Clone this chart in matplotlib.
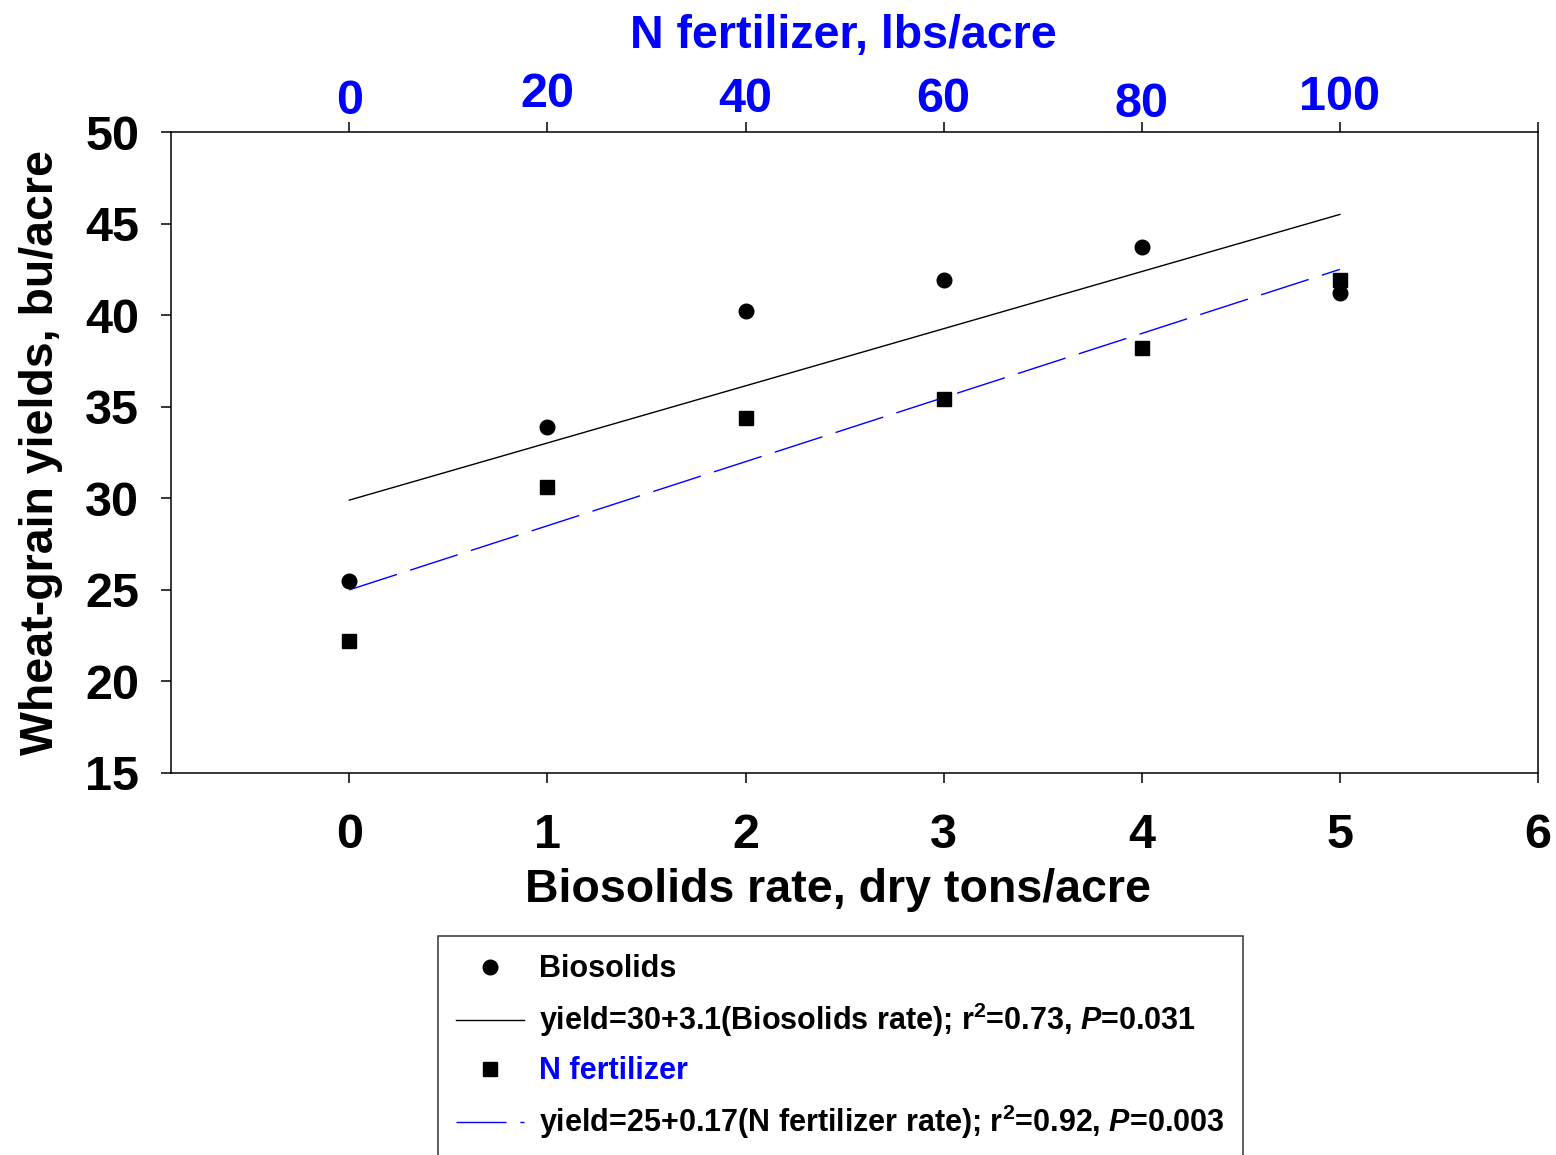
import matplotlib
matplotlib.use('Agg')
import matplotlib.pyplot as plt
import matplotlib.transforms as mtransforms
import numpy as np

# data
biosolids_rate = [0, 1, 2, 3, 4, 5]
biosolids_yield = [25.5, 33.9, 40.2, 41.9, 43.7, 41.2]
nfert_yield = [22.2, 30.6, 34.4, 35.4, 38.2, 41.9]
n_labels = ['0', '20', '40', '60', '80', '100']
# small vertical jitter of the top labels in the original (pixels)
n_label_shift = [0, 7, 2, 2, -3, 4]

bio_fit = (29.9, 3.12)       # intercept, slope per ton
nf_fit = (25.0, 0.175 * 20)  # per ton-equivalent (20 lbs N per unit)

plt.rcParams['font.family'] = ['Liberation Sans', 'DejaVu Sans']
plt.rcParams['font.weight'] = 'bold'
plt.rcParams['mathtext.fontset'] = 'custom'
plt.rcParams['mathtext.rm'] = 'Liberation Sans:bold'
plt.rcParams['mathtext.it'] = 'Liberation Sans:bold:italic'
plt.rcParams['mathtext.bf'] = 'Liberation Sans:bold'

fig = plt.figure(figsize=(15.56, 11.55), dpi=100)
ax = fig.add_axes([171/1556, 1-773/1155, (1538-171)/1556, (773-132)/1155])

ax.plot(biosolids_rate, biosolids_yield, 'o', color='black', markersize=10.5, label='Biosolids', zorder=3)
xs = np.array([0, 5])
ax.plot(xs, bio_fit[0] + bio_fit[1]*xs, '-', color='black', lw=1,
        label='yield=30+3.1(Biosolids rate); r$^2$=0.73, $P$=0.031')
ax.plot(biosolids_rate, nfert_yield, 's', color='black', markersize=9.5, label='N fertilizer', zorder=3)
ax.plot(xs, nf_fit[0] + nf_fit[1]*xs, color='blue', lw=1, linestyle=(0, (36, 10)),
        label='yield=25+0.17(N fertilizer rate); r$^2$=0.92, $P$=0.003')

ax.set_xlim(-0.9, 6)
ax.set_ylim(15, 50)
ax.set_xticks(range(0, 7))
ax.set_yticks(range(15, 51, 5))
ax.tick_params(axis='both', which='major', direction='out', length=7, width=1.1,
               labelsize=35)
ax.tick_params(axis='x', pad=22)
ax.tick_params(axis='y', pad=16)
for lab in ax.get_xticklabels() + ax.get_yticklabels():
    lab.set_fontweight('bold')
for sp in ax.spines.values():
    sp.set_linewidth(1.1)

ax.set_xlabel('Biosolids rate, dry tons/acre', fontsize=33.5, fontweight='bold')
ax.xaxis.set_label_coords(0.488, -0.148)
ax.set_ylabel('Wheat-grain yields, bu/acre', fontsize=33.5, fontweight='bold')
ax.yaxis.set_label_coords(-0.079, 0.5)

# top axis: N fertilizer rate
ax.tick_params(top=True, which='major', direction='out', length=7, width=1.1)
trans = mtransforms.blended_transform_factory(ax.transData, ax.transAxes)
for x, lab, dy in zip(biosolids_rate, n_labels, n_label_shift):
    t = trans + mtransforms.ScaledTranslation(0, dy/100, fig.dpi_scale_trans)
    ax.text(x, 1.0 + 8/641, lab, transform=t, ha='center', va='bottom', color='blue',
            fontsize=35, fontweight='bold')
ax.text(0.5 - 11/1367, 1.0 + 74/641, 'N fertilizer, lbs/acre', transform=ax.transAxes,
        ha='center', va='bottom', color='blue', fontsize=33.5, fontweight='bold')

leg = fig.legend(loc='upper left', bbox_to_anchor=(438/1556, 1-936/1155),
                 fontsize=22, frameon=True, fancybox=False, edgecolor='black',
                 handlelength=2.2, handletextpad=0.5, labelspacing=0.55,
                 borderpad=0.6, borderaxespad=0)
leg.get_frame().set_linewidth(1.1)
for i, t in enumerate(leg.get_texts()):
    t.set_fontweight('bold')
    if i == 2:
        t.set_color('blue')

plt.savefig('out.png', dpi=100)
